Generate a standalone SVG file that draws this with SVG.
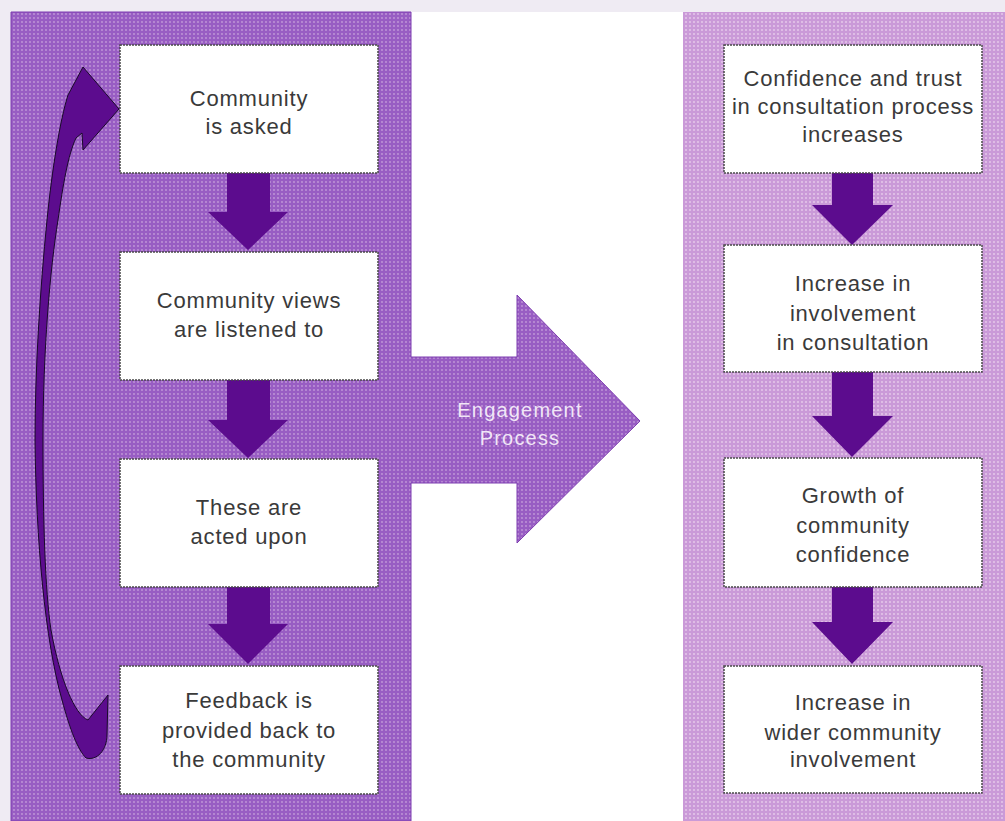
<svg xmlns="http://www.w3.org/2000/svg" width="1005" height="821" viewBox="0 0 1005 821">
  <style>
    .box { fill: #ffffff; stroke: #4a4a4a; stroke-width: 1.5; stroke-dasharray: 2 1; }
    .lbl { font-family: "Liberation Sans", Arial, sans-serif; font-size: 22px; letter-spacing: 0.8px; fill: #3a3a3a; text-anchor: middle; }
    .eng { font-family: "Liberation Sans", Arial, sans-serif; font-size: 20px; letter-spacing: 1.2px; fill: #f1e6f7; text-anchor: middle; }
    .dn { fill: #5c0c8e; }
  </style>
  <defs>
    <pattern id="dotL" width="4" height="4" patternUnits="userSpaceOnUse">
      <rect width="4" height="4" fill="#985dc3"/>
      <circle cx="2" cy="2" r="0.9" fill="#c29ad9"/>
    </pattern>
    <pattern id="dotR" width="4" height="4" patternUnits="userSpaceOnUse">
      <rect width="4" height="4" fill="#ca9ad8"/>
      <circle cx="2" cy="2" r="0.9" fill="#e8cdec"/>
    </pattern>
  </defs>

  <!-- background -->
  <rect x="0" y="0" width="1005" height="821" fill="#ffffff"/>
  <rect x="0" y="0" width="1005" height="12" fill="#efebf3"/>
  <rect x="0" y="0" width="11" height="821" fill="#efebf3"/>

  <!-- panels -->
  <g id="left-panel">
    <path d="M 11 12 L 411 12 L 411 357 L 517 357 L 517 295 L 640 421 L 517 543 L 517 483 L 411 483 L 411 821 L 11 821 Z" fill="url(#dotL)" stroke="#7d3db0" stroke-width="1"/>
    <text class="eng" x="520" y="417">Engagement</text>
    <text class="eng" x="520" y="445">Process</text>
  </g>
  <g id="right-panel">
    <rect x="683" y="12" width="322" height="809" fill="url(#dotR)"/>
  </g>

  <!-- connectors -->
  <g id="connectors">
    <path class="dn" d="M 227 173 L 270 173 L 270 212 L 288 212 L 248 250 L 208 212 L 227 212 Z"/>
    <path class="dn" d="M 227 380 L 270 380 L 270 420 L 288 420 L 248 458 L 208 420 L 227 420 Z"/>
    <path class="dn" d="M 227 587 L 270 587 L 270 624 L 288 624 L 248 664 L 208 624 L 227 624 Z"/>
    <path class="dn" d="M 832 173 L 873 173 L 873 205 L 893 205 L 852 245 L 812 205 L 832 205 Z"/>
    <path class="dn" d="M 832 372 L 873 372 L 873 416 L 893 416 L 852 457 L 812 416 L 832 416 Z"/>
    <path class="dn" d="M 832 587 L 873 587 L 873 622 L 893 622 L 852 664 L 812 622 L 832 622 Z"/>
    <path id="feedback-loop" d="M 119 109 L 83 67 L 68 95 C 60 120, 52 170, 47 220 C 40 290, 35 370, 35 440 C 36 540, 45 640, 62 700 C 70 730, 78 750, 86 758 C 97 761, 107 750, 107 735 L 108 695 L 88 720 C 75 715, 60 680, 51 630 C 45 590, 43 520, 43 440 C 43 350, 50 270, 58 220 C 63 185, 68 155, 76 138 L 82 133 L 83 150 Z" fill="#5c0c8e" stroke="#1a0a2a" stroke-width="1"/>
  </g>

  <!-- left nodes -->
  <g id="n-asked">
    <rect class="box" x="120" y="45" width="258" height="128"/>
    <text class="lbl" x="249" y="106">Community</text>
    <text class="lbl" x="249" y="134">is asked</text>
  </g>
  <g id="n-listened">
    <rect class="box" x="120" y="252" width="258" height="128"/>
    <text class="lbl" x="249" y="308">Community views</text>
    <text class="lbl" x="249" y="337">are listened to</text>
  </g>
  <g id="n-acted">
    <rect class="box" x="120" y="459" width="258" height="128"/>
    <text class="lbl" x="249" y="515">These are</text>
    <text class="lbl" x="249" y="544">acted upon</text>
  </g>
  <g id="n-feedback">
    <rect class="box" x="120" y="666" width="258" height="128"/>
    <text class="lbl" x="249" y="708">Feedback is</text>
    <text class="lbl" x="249" y="738">provided back to</text>
    <text class="lbl" x="249" y="767">the community</text>
  </g>

  <!-- right nodes -->
  <g id="n-confidence">
    <rect class="box" x="724" y="45" width="258" height="128"/>
    <text class="lbl" x="853" y="86">Confidence and trust</text>
    <text class="lbl" x="853" y="114">in consultation process</text>
    <text class="lbl" x="853" y="142">increases</text>
  </g>
  <g id="n-involvement">
    <rect class="box" x="724" y="245" width="258" height="127"/>
    <text class="lbl" x="853" y="291">Increase in</text>
    <text class="lbl" x="853" y="321">involvement</text>
    <text class="lbl" x="853" y="350">in consultation</text>
  </g>
  <g id="n-growth">
    <rect class="box" x="724" y="458" width="258" height="129"/>
    <text class="lbl" x="853" y="503">Growth of</text>
    <text class="lbl" x="853" y="533">community</text>
    <text class="lbl" x="853" y="562">confidence</text>
  </g>
  <g id="n-wider">
    <rect class="box" x="724" y="666" width="258" height="127"/>
    <text class="lbl" x="853" y="710">Increase in</text>
    <text class="lbl" x="853" y="740">wider community</text>
    <text class="lbl" x="853" y="767">involvement</text>
  </g>
</svg>
